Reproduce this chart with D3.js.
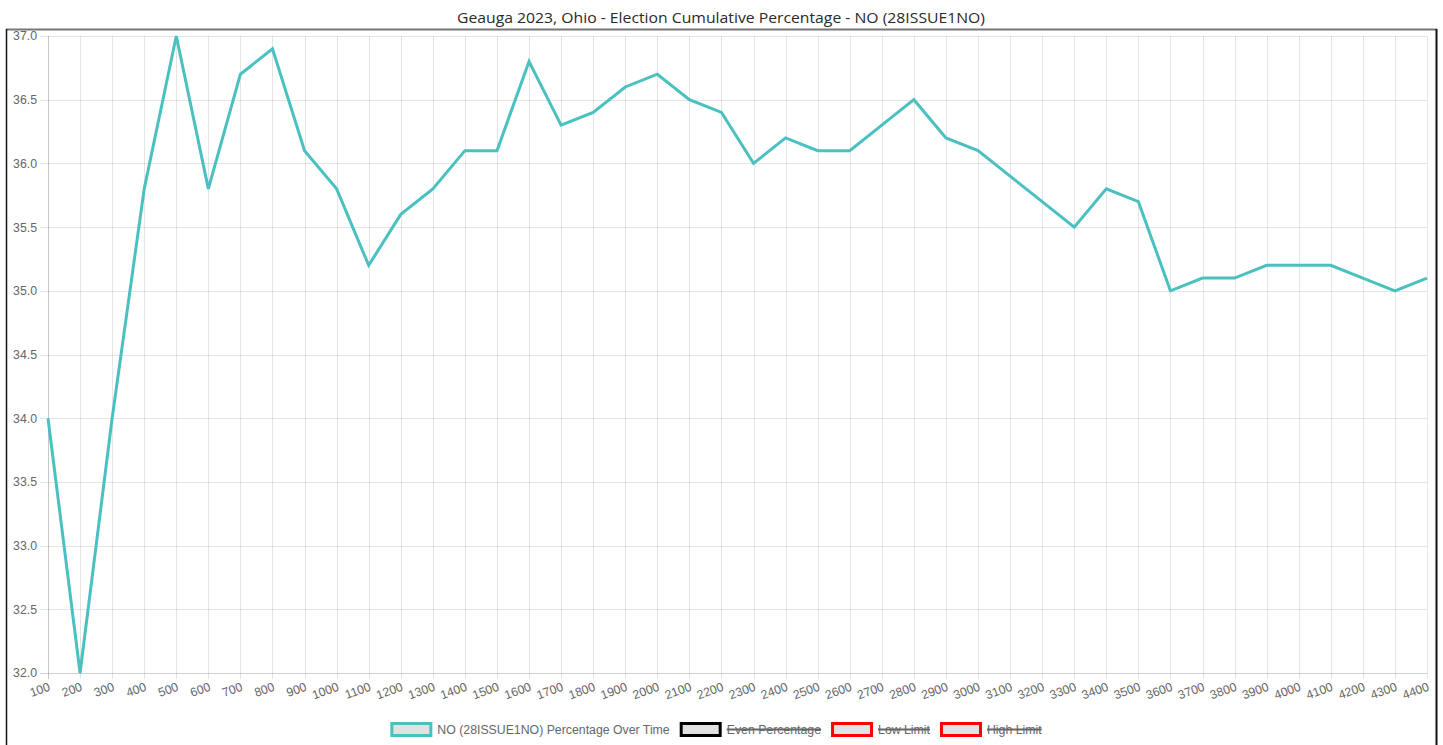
<!DOCTYPE html>
<html lang="en">
<head>
    <meta charset="UTF-8">
    <title>Geauga 2023 - Cumulative Percentage</title>
    <script src="https://cdn.jsdelivr.net/npm/d3@7"></script>
    <style>
      body { margin: 0; background: #fff; }
      #chart { position: relative; width: 1443px; height: 745px; }
    </style>
</head>
<body>
  <div id="chart"></div>
  <script>
    // data
    const counts = [100, 200, 300, 400, 500, 600, 700, 800, 900, 1000,
      1100, 1200, 1300, 1400, 1500, 1600, 1700, 1800, 1900, 2000,
      2100, 2200, 2300, 2400, 2500, 2600, 2700, 2800, 2900, 3000,
      3100, 3200, 3300, 3400, 3500, 3600, 3700, 3800, 3900, 4000,
      4100, 4200, 4300, 4400];
    const noPct = [34.0, 32.0, 34.0, 35.8, 37.0, 35.8, 36.7, 36.9, 36.1, 35.8,
      35.2, 35.6, 35.8, 36.1, 36.1, 36.8, 36.3, 36.4, 36.6, 36.7,
      36.5, 36.4, 36.0, 36.2, 36.1, 36.1, 36.3, 36.5, 36.2, 36.1,
      35.9, 35.7, 35.5, 35.8, 35.7, 35.0, 35.1, 35.1, 35.2, 35.2,
      35.2, 35.1, 35.0, 35.1];
    const yTicks = [32.0, 32.5, 33.0, 33.5, 34.0, 34.5, 35.0, 35.5, 36.0, 36.5, 37.0];
    const legendItems = [
      {label: "NO (28ISSUE1NO) Percentage Over Time", stroke: "rgb(75,192,192)", hidden: false},
      {label: "Even Percentage", stroke: "#000", hidden: true},
      {label: "Low Limit", stroke: "red", hidden: true},
      {label: "High Limit", stroke: "red", hidden: true}
    ];
    const titleText = "Geauga 2023, Ohio - Election Cumulative Percentage - NO (28ISSUE1NO)";

    const W = 1443, H = 745;
    const margin = {top: 36, right: 16, bottom: 72, left: 48},
        width = W - margin.left - margin.right,
        height = H - margin.top - margin.bottom;
    const font = "'Liberation Sans', Arial, sans-serif";
    const fs = "12.3px";
    const gridCol = "rgba(0,0,0,0.1)";

    const root = d3.select("#chart").append("svg")
        .attr("width", W)
        .attr("height", H);

    // card frame
    root.append("line").attr("x1", 6).attr("x2", 1437).attr("y1", 29.5).attr("y2", 29.5)
      .attr("stroke", "#777").attr("stroke-width", 2);
    root.append("line").attr("x1", 6.5).attr("x2", 6.5).attr("y1", 29).attr("y2", H)
      .attr("stroke", "#111").attr("stroke-width", 1.5);
    root.append("line").attr("x1", 1436.5).attr("x2", 1436.5).attr("y1", 29).attr("y2", H)
      .attr("stroke", "#111").attr("stroke-width", 2);

    // title
    root.append("text")
      .attr("x", 721)
      .attr("y", 23)
      .attr("text-anchor", "middle")
      .attr("font-family", "'Open Sans', Lato, sans-serif")
      .attr("font-size", "14.5px")
      .attr("textLength", 528)
      .attr("lengthAdjust", "spacingAndGlyphs")
      .attr("fill", "#2a2a2a")
      .text(titleText);

    const svg = root.append("g")
        .attr("transform", `translate(${margin.left},${margin.top})`);

    const x = d3.scalePoint()
      .domain(counts)
      .range([0, width]);
    const y = d3.scaleLinear()
      .domain([32, 37])
      .range([height, 0]);

    // grid lines (with tick stubs)
    svg.append("g")
      .selectAll("line")
      .data(yTicks)
      .join("line")
        .attr("x1", -8).attr("x2", width)
        .attr("y1", d => Math.round(y(d)) + 0.5)
        .attr("y2", d => Math.round(y(d)) + 0.5)
        .attr("stroke", (d, i) => i === 0 ? "rgba(0,0,0,0.18)" : gridCol);
    svg.append("g")
      .selectAll("line")
      .data(counts)
      .join("line")
        .attr("x1", d => Math.round(x(d)) + 0.5)
        .attr("x2", d => Math.round(x(d)) + 0.5)
        .attr("y1", 0).attr("y2", height + 6)
        .attr("stroke", (d, i) => i === 0 ? "rgba(0,0,0,0.22)" : gridCol);

    // Y axis labels
    const yAxis = svg.append("g")
      .call(d3.axisLeft(y).tickValues(yTicks).tickFormat(d3.format(".1f")).tickSize(0).tickPadding(11));
    yAxis.select(".domain").remove();
    yAxis.selectAll("text")
      .attr("font-family", font)
      .attr("font-size", fs)
      .attr("fill", "#666");

    // X axis labels, rotated
    const xAxis = svg.append("g")
      .attr("transform", `translate(0,${height})`)
      .call(d3.axisBottom(x).tickSize(0));
    xAxis.select(".domain").remove();
    xAxis.selectAll("text")
      .attr("font-family", font)
      .attr("font-size", fs)
      .attr("fill", "#666")
      .attr("y", 0)
      .attr("dy", "0.35em")
      .attr("text-anchor", "end")
      .attr("transform", "translate(1,13) rotate(-20)");

    // the line
    const line = d3.line()
      .x((d, i) => x(counts[i]))
      .y(d => y(d));
    svg.append("path")
      .datum(noPct)
      .attr("fill", "none")
      .attr("stroke", "rgb(75,192,192)")
      .attr("stroke-width", 3)
      .attr("stroke-linejoin", "miter")
      .attr("d", line);

    // legend
    const legend = root.append("g");
    const items = legend.selectAll("g")
      .data(legendItems)
      .join("g");
    items.append("rect")
      .attr("x", 1.5).attr("y", 723.5)
      .attr("width", 39).attr("height", 12)
      .attr("fill", "#e2e2e2")
      .attr("stroke", d => d.stroke)
      .attr("stroke-width", 3);
    items.append("text")
      .attr("x", 47)
      .attr("y", 729.5)
      .attr("dy", "0.35em")
      .attr("font-family", font)
      .attr("font-size", fs)
      .attr("fill", "#666")
      .text(d => d.label);
    let offs = [], total = 0;
    items.each(function(d) {
      const w = 47 + this.querySelector("text").getComputedTextLength();
      offs.push(total);
      total += w + 10;
      if (d.hidden) {
        d3.select(this).append("line")
          .attr("x1", 47).attr("x2", w)
          .attr("y1", 729.5).attr("y2", 729.5)
          .attr("stroke", "#666").attr("stroke-width", 2);
      }
    });
    total -= 10;
    const start = 716 - total / 2;
    items.attr("transform", (d, i) => `translate(${start + offs[i]},0)`);
  </script>
</body>
</html>
